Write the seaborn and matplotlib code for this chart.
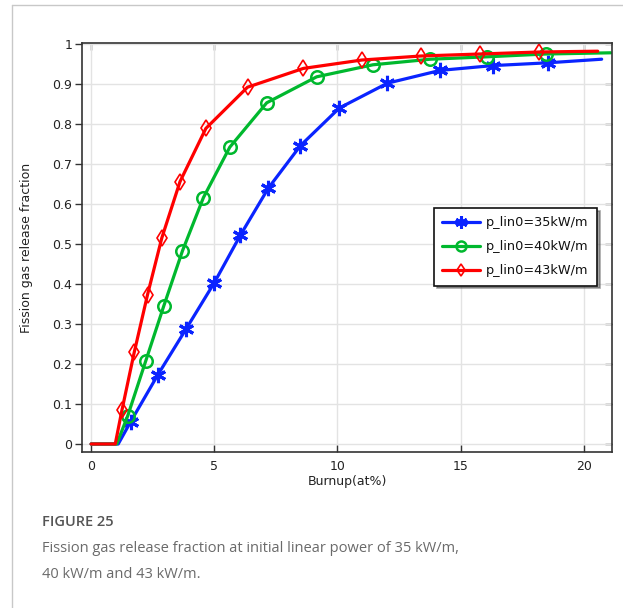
import numpy as np
import pandas as pd
import seaborn as sns
import matplotlib
matplotlib.use("Agg")
import matplotlib.pyplot as plt
from matplotlib.lines import Line2D

# ---- data ----
labels = ["p_lin0=35kW/m", "p_lin0=40kW/m", "p_lin0=43kW/m"]

burnup_35 = [0.0, 1.10, 1.60, 2.70, 3.86, 5.00, 6.06, 7.20, 8.50, 10.08, 12.03, 14.17, 16.30, 18.55, 20.73]
fgr_35 = [0.0, 0.0, 0.055, 0.172, 0.288, 0.403, 0.522, 0.640, 0.746, 0.840, 0.902, 0.934, 0.946, 0.953, 0.962]

burnup_40 = [0.0, 1.04, 1.49, 2.22, 2.95, 3.71, 4.56, 5.63, 7.13, 9.16, 11.44, 13.78, 16.09, 18.46, 21.10]
fgr_40 = [0.0, 0.0, 0.071, 0.208, 0.345, 0.483, 0.616, 0.742, 0.853, 0.918, 0.948, 0.962, 0.968, 0.975, 0.978]

burnup_43 = [0.0, 0.98, 1.25, 1.75, 2.29, 2.87, 3.61, 4.66, 6.35, 8.62, 11.00, 13.40, 15.79, 18.20, 20.57]
fgr_43 = [0.0, 0.0, 0.084, 0.229, 0.373, 0.515, 0.656, 0.789, 0.892, 0.939, 0.960, 0.970, 0.975, 0.980, 0.982]

x_ticks = [0, 5, 10, 15, 20]
y_ticks = [0, 0.1, 0.2, 0.3, 0.4, 0.5, 0.6, 0.7, 0.8, 0.9, 1.0]
y_ticklabels = ["0", "0.1", "0.2", "0.3", "0.4", "0.5", "0.6", "0.7", "0.8", "0.9", "1"]

sns.set_style("white")
plt.rcParams["font.family"] = ["DejaVu Sans"]

fig = plt.figure(figsize=(6.23, 6.08), dpi=100)
ax = fig.add_axes([82 / 623, 1 - 452 / 608, 530 / 623, 409 / 608])

colors = ["#0a24ff", "#00b82e", "#ff0000"]
styles = [
    dict(marker=(6, 2, 0), markersize=11, markeredgewidth=2.2, markerfacecolor=colors[0]),
    dict(marker="o", markersize=9, markeredgewidth=1.8, markerfacecolor="none"),
    dict(marker="d", markersize=8, markeredgewidth=1.2, markerfacecolor="none"),
]
series = [(burnup_35, fgr_35), (burnup_40, fgr_40), (burnup_43, fgr_43)]

for (xs, ys), lab, st, c in zip(series, labels, styles, colors):
    df = pd.DataFrame({"Burnup": xs, "FGR": ys})
    n = len(xs)
    sns.lineplot(data=df, x="Burnup", y="FGR", ax=ax, label=lab, linewidth=2.3,
                 color=c, markeredgecolor=c, linestyle="-", dashes=False,
                 markevery=list(range(2, n - 1)), sort=False, estimator=None, **st)

for line in ax.get_lines():
    line.set_linestyle("-")

ax.set_xlim(-0.37, 21.15)
ax.set_ylim(-0.02, 1.0025)
ax.set_xticks(x_ticks)
ax.set_xticklabels([str(t) for t in x_ticks])
ax.set_yticks(y_ticks)
ax.set_yticklabels(y_ticklabels)
ax.grid(True, color="#e3e3e3", linewidth=1.0)
ax.set_axisbelow(True)

for s in ax.spines.values():
    s.set_color("#333333")
    s.set_linewidth(1.2)
    s.set_visible(True)

ax.tick_params(axis="y", which="major", left=True, right=False, direction="out",
               length=5, width=1.0, color="#333333", labelsize=9, labelcolor="#222222", pad=2)
ax.tick_params(axis="x", which="major", bottom=True, top=False, direction="in",
               length=5, width=1.0, color="#333333", labelsize=9, labelcolor="#222222", pad=6)
axt = ax.secondary_xaxis("top")
axt.set_xticks(x_ticks)
axt.tick_params(direction="in", length=5, width=1.0, color="#333333", labeltop=False)
axr = ax.secondary_yaxis("right")
axr.set_yticks(y_ticks)
axr.tick_params(direction="in", length=5, width=1.0, color="#333333", labelright=False)
axt.spines["top"].set_visible(False)
axr.spines["right"].set_visible(False)

ax.set_xlabel("Burnup(at%)", fontsize=9, color="#222222", labelpad=1)
ax.set_ylabel("Fission gas release fraction", fontsize=9, color="#222222", labelpad=14)

leg = ax.legend(loc="upper left", bbox_to_anchor=(0.664, 0.597), borderaxespad=0,
                frameon=True, fancybox=False, shadow=True, fontsize=9.3,
                handlelength=2.9, labelspacing=0.85, markerscale=0.8,
                borderpad=0.65, handletextpad=0.5)
leg.get_frame().set_edgecolor("#111111")
leg.get_frame().set_linewidth(1.2)
for t in leg.get_texts():
    t.set_color("#111111")
for h in leg.get_lines():
    h.set_linestyle("-")

cap_font = ["Open Sans", "DejaVu Sans"]
fig.text(42 / 623, 1 - 522 / 608, "FIGURE 25", fontsize=10.5, family=cap_font,
         fontweight="semibold", color="#555555", va="center", ha="left")
fig.text(42 / 623, 1 - 549 / 608, "Fission gas release fraction at initial linear power of 35 kW/m,",
         fontsize=10.5, family=cap_font, color="#6a6a6a", va="center", ha="left")
fig.text(42 / 623, 1 - 574 / 608, "40 kW/m and 43 kW/m.",
         fontsize=10.5, family=cap_font, color="#6a6a6a", va="center", ha="left")

fig.add_artist(Line2D([12 / 623, 12 / 623], [0, 1 - 5 / 608], transform=fig.transFigure,
                      color="#c8c8c8", linewidth=1.0))
fig.add_artist(Line2D([12 / 623, 1], [1 - 5 / 608, 1 - 5 / 608], transform=fig.transFigure,
                      color="#c8c8c8", linewidth=1.0))

fig.savefig("out.png", dpi=100)
